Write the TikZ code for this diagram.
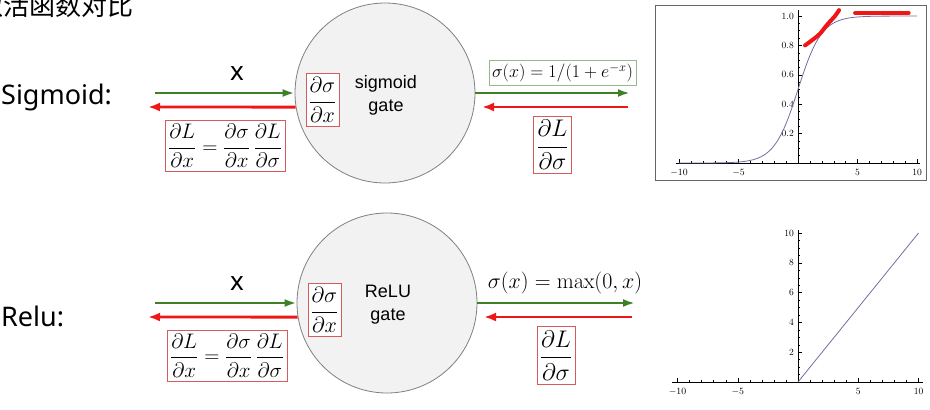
\RequirePackage{fix-cm}
\documentclass[tikz,border=0pt]{standalone}
\usepackage{amsmath}
\usepackage[no-math]{fontspec}
\newfontfamily\cnfont{Noto Sans CJK SC}
\newfontfamily\lblfont{Noto Sans}
\newfontfamily\gatefont{Liberation Sans}
\usetikzlibrary{arrows.meta,positioning}

\definecolor{fwdgreen}{RGB}{62,128,40}
\definecolor{bwdred}{RGB}{240,22,22}
\definecolor{gradred}{RGB}{212,92,92}
\definecolor{funcgreen}{RGB}{150,186,140}
\definecolor{gatefill}{RGB}{242,242,242}
\definecolor{curveblue}{RGB}{112,112,160}

\tikzset{
  gate/.style={circle, draw=gray, fill=gatefill, line width=0.8pt, minimum size=180pt, inner sep=0pt},
  gatelabel/.style={font=\gatefont\fontsize{18}{23}\selectfont, align=center, inner sep=0pt},
  rowlabel/.style={font=\lblfont\fontsize{27}{30}\selectfont, inner sep=0pt, anchor=base west},
  inlabel/.style={font=\lblfont\fontsize{26}{30}\selectfont, inner sep=0pt, anchor=base},
  fwd/.style={draw=fwdgreen, line width=2.5pt, -{Latex[length=12pt,width=8pt]}},
  bwd/.style={draw=bwdred, line width=2.8pt, -{Latex[length=12pt,width=9pt]}},
  gradbox/.style={draw=gradred, line width=0.8pt, fill=white, inner xsep=3pt, inner ysep=4pt},
  funcbox/.style={draw=funcgreen, line width=0.8pt, fill=white, inner xsep=3pt, inner ysep=3pt},
  axisline/.style={black, line width=0.6pt},
  tickline/.style={black, line width=0.4pt},
  ticklabel/.style={font=\fontsize{9.5}{11}\selectfont, inner sep=0pt},
  scribble/.style={bwdred, line width=4pt, line cap=round, line join=round}
}

\begin{document}
\begin{tikzpicture}[x=1pt, y=-1pt]
\useasboundingbox (0,0) rectangle (930,410);

% Title
\node[anchor=base west, inner sep=0pt, font=\cnfont\fontsize{26}{30}\selectfont] (title) at (-23,15) {激活函数对比};

% Row labels
\node[rowlabel] (sigrow) at (1,104) {Sigmoid:};
\node[rowlabel] (relurow) at (1,326) {Relu:};

%%% Sigmoid gate
\node[gate] (sgate) at (385,93) {};
\node[gatelabel] (sname) at (386,95) {sigmoid\\gate};
\node[gradbox, inner xsep=2.5pt, font=\fontsize{22}{26}\selectfont] (sdsdx) at (322.5,100) {$\dfrac{\partial\sigma}{\partial x}$};

% Input side
\coordinate (sin) at (155,93);
\coordinate (sout) at (148,107);
\draw[fwd] (sin) -- (sgate.west);
\draw[bwd] (sgate.189) -- (sout);
\node[inlabel] (sx) at (237,80) {x};
\node[gradbox, font=\fontsize{21}{25}\selectfont] (sgrad) at (225,146) {$\dfrac{\partial L}{\partial x}=\dfrac{\partial\sigma}{\partial x}\,\dfrac{\partial L}{\partial\sigma}$};

% Output side
\coordinate (sfwd) at (630,93);
\coordinate (sbwd) at (628,107);
\coordinate (sbwdend) at (482,107);
\draw[fwd] (sgate.east) -- (sfwd);
\draw[bwd] (sbwd) -- (sbwdend);
\node[funcbox, font=\fontsize{18}{22}\selectfont] (sfunc) at (562.5,73) {$\sigma(x)=1/(1+e^{-x})$};
\node[gradbox, font=\fontsize{24}{28}\selectfont] (sdLds) at (552.5,145) {$\dfrac{\partial L}{\partial\sigma}$};

%%% ReLU gate
\node[gate] (rgate) at (387,303) {};
\node[gatelabel] (rname) at (388,305) {ReLU\\gate};
\node[gradbox, inner xsep=2.5pt, font=\fontsize{22}{26}\selectfont] (rdsdx) at (324.5,310) {$\dfrac{\partial\sigma}{\partial x}$};

% Input side
\coordinate (rin) at (155,303);
\coordinate (rout) at (148,317);
\draw[fwd] (rin) -- (rgate.west);
\draw[bwd] (rgate.189) -- (rout);
\node[inlabel] (rx) at (237,290) {x};
\node[gradbox, font=\fontsize{21}{25}\selectfont] (rgrad) at (227,355.5) {$\dfrac{\partial L}{\partial x}=\dfrac{\partial\sigma}{\partial x}\,\dfrac{\partial L}{\partial\sigma}$};

% Output side
\coordinate (rfwd) at (635,303);
\coordinate (rbwd) at (632,317);
\coordinate (rbwdend) at (484,317);
\draw[fwd] (rgate.east) -- (rfwd);
\draw[bwd] (rbwd) -- (rbwdend);
\node[inner sep=0pt, font=\fontsize{22}{26}\selectfont] (rfunc) at (565,283) {$\sigma(x)=\max(0,x)$};
\node[gradbox, font=\fontsize{24}{28}\selectfont] (rdLds) at (556,355.5) {$\dfrac{\partial L}{\partial\sigma}$};

%%% Sigmoid plot
\draw[gray!80!black, line width=0.6pt] (655,5) rectangle (926,180);
\begin{scope}[shift={(798,163)}, x=11.9pt, y=147pt]
% Axes
\draw[axisline] (-10.25,0) -- (10.25,0);
\draw[axisline] (0,0) -- (0,1.04);
% Ticks
\foreach \u in {-10,...,10} \draw[tickline] (\u,0) -- ++(0,2pt);
\foreach \u in {-10,-5,5,10} \draw[tickline] (\u,0) -- ++(0,4pt);
\foreach \v in {0.05,0.1,...,1.01} \draw[tickline] (0,\v) -- ++(2pt,0);
\foreach \v in {0.2,0.4,0.6,0.8,1.0} \draw[tickline] (0,\v) -- ++(4pt,0);
% Labels
\foreach \u/\t [count=\i] in {-10/$-10$,-5/$-5$,5/5,10/10}
  \node[ticklabel, anchor=north] (sxl\i) at ([yshift=-6pt]\u,0) {\t};
\foreach \v/\t [count=\i] in {0.2/0.2,0.4/0.4,0.6/0.6,0.8/0.8,1.0/1.0}
  \node[ticklabel, anchor=east] (syl\i) at ([xshift=-4pt]0,\v) {\t};
% Curve
\draw[curveblue, line width=0.8pt, domain=-10:0, samples=60, smooth] plot (\x, {exp(\x)/(1+exp(\x))});
\draw[curveblue, line width=0.8pt, domain=0:10, samples=60, smooth] plot (\x, {1/(1+exp(-\x))});
% Red marks
\draw[scribble] plot[smooth] coordinates {(0.59,0.80) (1.26,0.84) (1.85,0.88) (2.44,0.94) (3.11,1.0) (3.45,1.04)};
\draw[scribble] (4.8,1.02) -- (9.3,1.02);
\end{scope}

%%% ReLU plot
\begin{scope}[shift={(798,382)}, x=12.05pt, y=14.9pt]
% Axes
\draw[axisline] (-10.45,0) -- (10.4,0);
\draw[axisline] (0,0) -- (0,10.2);
% Ticks
\foreach \u in {-10,...,10} \draw[tickline] (\u,0) -- ++(0,2pt);
\foreach \u in {-10,-5,5,10} \draw[tickline] (\u,0) -- ++(0,4pt);
\foreach \v in {0.5,1,...,10} \draw[tickline] (0,\v) -- ++(2pt,0);
\foreach \v in {2,4,...,10} \draw[tickline] (0,\v) -- ++(4pt,0);
% Labels
\foreach \u/\t [count=\i] in {-10/$-10$,-5/$-5$,5/5,10/10}
  \node[ticklabel, anchor=north] (rxl\i) at ([yshift=-6pt]\u,0) {\t};
\foreach \v [count=\i] in {2,4,6,8,10}
  \node[ticklabel, anchor=east] (ryl\i) at ([xshift=-4pt]0,\v) {\v};
% Curve
\draw[curveblue, line width=0.8pt] (0,0) -- (10,10);
\end{scope}

\end{tikzpicture}
\end{document}
